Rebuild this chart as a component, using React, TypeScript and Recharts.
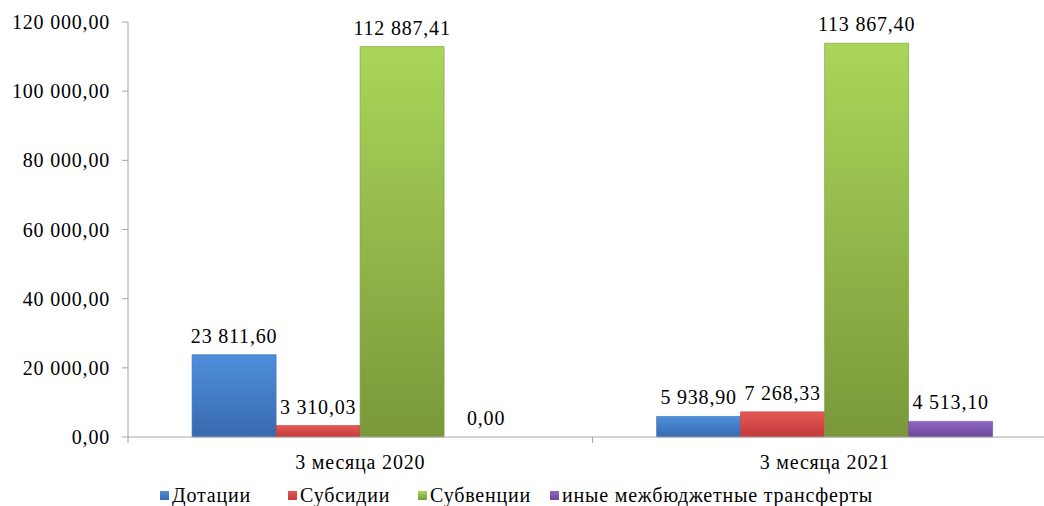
import { Bar, BarChart, LabelList, Legend, Rectangle, XAxis, YAxis } from "recharts";

const categories = ["3 месяца 2020", "3 месяца 2021"];
const dotacii = [23811.6, 5938.9];
const subsidii = [3310.03, 7268.33];
const subvencii = [112887.41, 113867.4];
const inye = [0, 4513.1];
const yTicks = [0, 20000, 40000, 60000, 80000, 100000, 120000];

const seriesInfo = [
  { key: "dotacii", name: "Дотации", top: "#4f8fdc", bottom: "#3769b0" },
  { key: "subsidii", name: "Субсидии", top: "#e65a55", bottom: "#c2393a" },
  { key: "subvencii", name: "Субвенции", top: "#a9d65a", bottom: "#7a983a" },
  { key: "inye", name: "иные межбюджетные трансферты", top: "#9267c9", bottom: "#6b4898" },
];

const data = categories.map((label, i) => ({
  label,
  dotacii: dotacii[i],
  subsidii: subsidii[i],
  subvencii: subvencii[i],
  inye: inye[i],
}));

const W = 1044;
const H = 506;
// plot runs a little past the right edge, like the original picture was cropped
const margin = { top: 22, right: -13, left: 0, bottom: 0 };
const yAxisWidth = 128;
const halfBand = (W - margin.left - margin.right - yAxisWidth) / categories.length / 2;
const font = "Liberation Serif, Tinos, DejaVu Serif, Noto Serif, Times New Roman, serif";
const axisGray = "#a6a6a6";
const legendItemWidths = [128, 130, 132, undefined];

function fmt(v: number) {
  const [int, dec] = v.toFixed(2).split(".");
  return int.replace(/\B(?=(\d{3})+(?!\d))/g, " ") + "," + dec;
}

function XTick(props: any) {
  const { x, y, payload } = props;
  return (
    <g>
      <line x1={x - halfBand} x2={x - halfBand} y1={y - 8} y2={y - 2} stroke={axisGray} />
      <line x1={x + halfBand} x2={x + halfBand} y1={y - 8} y2={y - 2} stroke={axisGray} />
      <text
        x={x}
        y={y + 24}
        textAnchor="middle"
        fontFamily={font}
        fontSize={20}
        letterSpacing={0.8}
        fill="#000"
      >
        {payload.value}
      </text>
    </g>
  );
}

// zero bars get a tiny min size so their label still shows, but are not drawn
function BarShape(props: any) {
  if (props.height < 1) return <g />;
  return <Rectangle {...props} />;
}

function LegendContent() {
  return (
    <div
      style={{
        display: "flex",
        fontFamily: font,
        fontSize: 20,
        letterSpacing: 0.8,
        color: "#000",
        whiteSpace: "nowrap",
        paddingLeft: 160,
        lineHeight: "22px",
      }}
    >
      {seriesInfo.map((s, i) => (
        <div key={s.key} style={{ display: "flex", alignItems: "center", width: legendItemWidths[i] }}>
          <span
            style={{
              display: "inline-block",
              width: 9,
              height: 9,
              marginRight: 3,
              background: `linear-gradient(${s.top}, ${s.bottom})`,
            }}
          />
          <span>{s.name}</span>
        </div>
      ))}
    </div>
  );
}

export default function App() {
  return (
    <div style={{ position: "absolute", left: 0, top: 0, width: W, height: H, background: "#fff", overflow: "hidden" }}>
      <BarChart width={W} height={H} data={data} margin={margin} barCategoryGap="13.8%" barGap={0}>
        <defs>
          {seriesInfo.map((s) => (
            <linearGradient key={s.key} id={`g-${s.key}`} x1="0" y1="0" x2="0" y2="1">
              <stop offset="0%" stopColor={s.top} />
              <stop offset="100%" stopColor={s.bottom} />
            </linearGradient>
          ))}
        </defs>
        <XAxis
          dataKey="label"
          height={47}
          axisLine={{ stroke: axisGray }}
          tickLine={false}
          tick={<XTick />}
          interval={0}
        />
        <YAxis
          width={yAxisWidth}
          domain={[0, 120000]}
          ticks={yTicks}
          tickFormatter={fmt}
          axisLine={{ stroke: axisGray }}
          tickLine={{ stroke: axisGray }}
          tickSize={6}
          tickMargin={12}
          tick={{ fontFamily: font, fontSize: 20, fill: "#000", letterSpacing: 0.8 }}
        />
        <Legend verticalAlign="bottom" content={<LegendContent />} />
        {seriesInfo.map((s) => (
          <Bar
            key={s.key}
            dataKey={s.key}
            name={s.name}
            fill={`url(#g-${s.key})`}
            stroke={s.bottom}
            strokeOpacity={0.6}
            minPointSize={0.5}
            shape={<BarShape />}
            isAnimationActive={false}
          >
            <LabelList
              dataKey={s.key}
              position="top"
              offset={12}
              formatter={(v: any) => fmt(Number(v))}
              style={{ fontFamily: font, fontSize: 20, fill: "#000", letterSpacing: 0.8 }}
            />
          </Bar>
        ))}
      </BarChart>
    </div>
  );
}
